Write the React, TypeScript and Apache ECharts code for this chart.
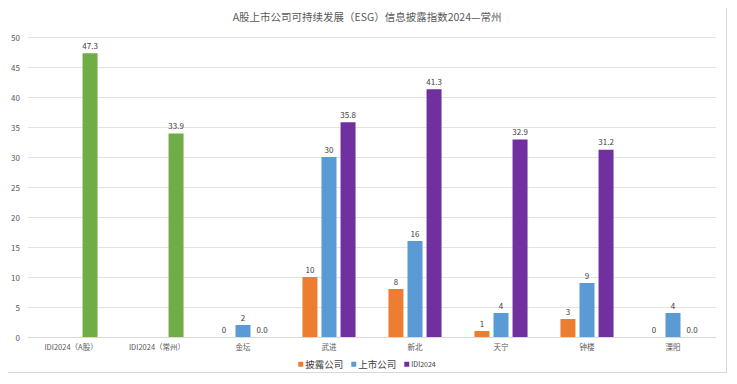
import React, { useEffect, useRef } from "react";
import * as echarts from "echarts";

const categories = ["IDI2024（A股）", "IDI2024（常州）", "金坛", "武进", "新北", "天宁", "钟楼", "溧阳"];
const disclosed: (number | null)[] = [null, null, 0, 10, 8, 1, 3, 0];
const listed: (number | null)[] = [null, null, 2, 30, 16, 4, 9, 4];
const idi: number[] = [47.3, 33.9, 0.0, 35.8, 41.3, 32.9, 31.2, 0.0];
const yTicks = { min: 0, max: 50, interval: 5 };
const titleText = "A股上市公司可持续发展（ESG）信息披露指数2024—常州";
const seriesNames = ["披露公司", "上市公司", "IDI2024"];

const FONT = "'Noto Sans CJK SC', 'Noto Sans', sans-serif";

export default function App() {
  const ref = useRef<HTMLDivElement>(null);
  useEffect(() => {
    if (!ref.current) return;
    const chart = echarts.init(ref.current, undefined, { renderer: "svg" });
    const labelStyle = {
      show: true,
      position: "top" as const,
      fontSize: 8,
      color: "#404040",
      fontFamily: FONT,
      distance: 4,
    };
    chart.setOption({
      animation: false,
      textStyle: { fontFamily: FONT },
      title: {
        text: titleText,
        left: "center",
        top: 3,
        padding: 0,
        textStyle: { fontSize: 10.5, fontWeight: "normal", color: "#595959", fontFamily: FONT },
      },
      legend: {
        bottom: 3,
        padding: 0,
        left: "center",
        itemWidth: 5,
        itemHeight: 5,
        itemGap: 8,
        icon: "rect",
        formatter: (name: string) => (name === "IDI2024" ? "{s|" + name + "}" : "{b|" + name + "}"),
        textStyle: {
          fontFamily: FONT,
          padding: [0, 0, 0, -3],
          rich: {
            b: { fontSize: 9.5, color: "#404040", fontFamily: FONT },
            s: { fontSize: 7, color: "#404040", fontFamily: FONT },
          },
        },
        data: seriesNames,
      },
      grid: { left: 20, right: 10, top: 29, bottom: 35, containLabel: false },
      xAxis: {
        type: "category",
        data: categories,
        axisLine: { lineStyle: { color: "#d9d9d9" } },
        axisTick: { show: false },
        axisLabel: { fontSize: 7.5, color: "#595959", margin: 6, fontFamily: FONT, interval: 0 },
      },
      yAxis: {
        type: "value",
        min: yTicks.min,
        max: yTicks.max,
        interval: yTicks.interval,
        axisLine: { show: false },
        axisTick: { show: false },
        splitLine: { lineStyle: { color: "#e3e3e3" } },
        axisLabel: { fontSize: 8, color: "#595959", margin: 8, fontFamily: FONT },
      },
      series: [
        {
          name: seriesNames[0],
          type: "bar",
          data: disclosed,
          barWidth: 15,
          barGap: "27%",
          itemStyle: { color: "#ED7D31" },
          label: labelStyle,
        },
        {
          name: seriesNames[1],
          type: "bar",
          data: listed,
          barWidth: 15,
          barGap: "27%",
          itemStyle: { color: "#5B9BD5" },
          label: labelStyle,
        },
        {
          name: seriesNames[2],
          type: "bar",
          barWidth: 15,
          barGap: "27%",
          data: idi.map((v, i) =>
            i < 2 ? { value: v, itemStyle: { color: "#70AD47" } } : { value: v }
          ),
          itemStyle: { color: "#7030A0" },
          label: { ...labelStyle, formatter: (p: any) => Number(p.value).toFixed(1) },
        },
      ],
    });
    return () => chart.dispose();
  }, []);
  return (
    <div
      ref={ref}
      style={{ width: 718, height: 364, border: "1px solid #d9d9d9", background: "#fff", marginLeft: -1, marginTop: -1 }}
    />
  );
}
